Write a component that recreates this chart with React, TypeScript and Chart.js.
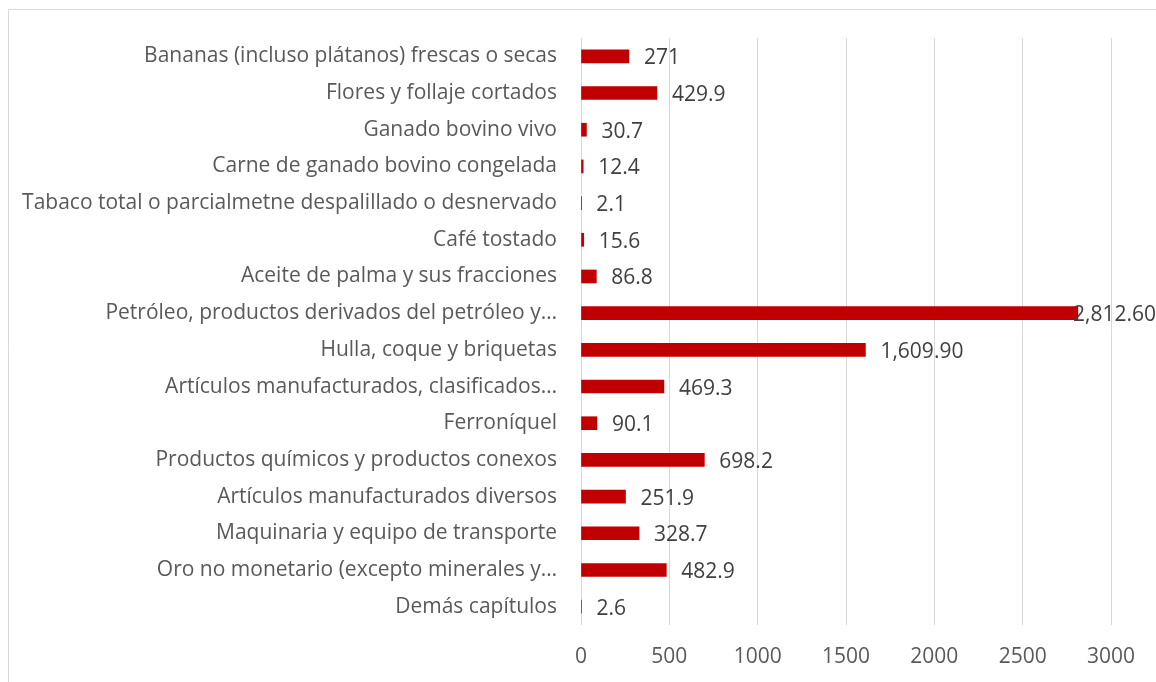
import React, { useEffect, useRef } from "react";
import { Chart, registerables } from "chart.js";

Chart.register(...registerables);

const categories: string[] = [
  "Bananas (incluso plátanos) frescas o secas",
  "Flores y follaje cortados",
  "Ganado bovino vivo",
  "Carne de ganado bovino congelada",
  "Tabaco total o parcialmetne despalillado o desnervado",
  "Café tostado",
  "Aceite de palma y sus fracciones",
  "Petróleo, productos derivados del petróleo y…",
  "Hulla, coque y briquetas",
  "Artículos manufacturados, clasificados…",
  "Ferroníquel",
  "Productos químicos y productos conexos",
  "Artículos manufacturados diversos",
  "Maquinaria y equipo de transporte",
  "Oro no monetario (excepto minerales y…",
  "Demás capítulos",
];

const values: number[] = [
  271, 429.9, 30.7, 12.4, 2.1, 15.6, 86.8, 2812.6, 1609.9, 469.3, 90.1, 698.2,
  251.9, 328.7, 482.9, 2.6,
];

const valueLabels: string[] = [
  "271", "429.9", "30.7", "12.4", "2.1", "15.6", "86.8", "2,812.60", "1,609.90",
  "469.3", "90.1", "698.2", "251.9", "328.7", "482.9", "2.6",
];

const xTicks: number[] = [0, 500, 1000, 1500, 2000, 2500, 3000];

const W = 1156;
const H = 682;
const FONT = "'Open Sans', sans-serif";
const FS = 21;

export default function App() {
  const ref = useRef<HTMLCanvasElement | null>(null);

  useEffect(() => {
    const canvas = ref.current;
    if (!canvas) return;

    const borderPlugin = {
      id: "frame",
      beforeDraw(chart: any) {
        const ctx = chart.ctx;
        ctx.save();
        ctx.fillStyle = "#ffffff";
        ctx.fillRect(0, 0, W, H);
        ctx.strokeStyle = "#d9d9d9";
        ctx.lineWidth = 1;
        ctx.beginPath();
        ctx.moveTo(8.5, H);
        ctx.lineTo(8.5, 9.5);
        ctx.lineTo(W, 9.5);
        ctx.stroke();
        ctx.restore();
      },
    };

    const labelPlugin = {
      id: "valueLabels",
      afterDatasetsDraw(chart: any) {
        const ctx = chart.ctx;
        const meta = chart.getDatasetMeta(0);
        ctx.save();
        ctx.font = `${FS}px ${FONT}`;
        ctx.fillStyle = "#404040";
        ctx.textBaseline = "middle";
        ctx.textAlign = "left";
        meta.data.forEach((bar: any, i: number) => {
          const txt = valueLabels[i];
          const w = ctx.measureText(txt).width;
          let x = bar.x + 15;
          if (x + w > W) x = W - w;
          ctx.fillText(txt, x, bar.y + 2);
        });
        ctx.restore();
      },
    };

    const chart = new Chart(canvas, {
      type: "bar",
      data: {
        labels: categories,
        datasets: [
          {
            data: values,
            backgroundColor: "#C00000",
            borderWidth: 0,
            barThickness: 13,
          },
        ],
      },
      options: {
        indexAxis: "y",
        responsive: false,
        animation: false,
        layout: { padding: { top: 38, right: 45, left: 0, bottom: 0 } },
        plugins: {
          legend: { display: false },
          tooltip: { enabled: false },
        },
        scales: {
          x: {
            min: 0,
            max: 3000,
            afterBuildTicks(scale: any) {
              scale.ticks = xTicks.map((v) => ({ value: v }));
            },
            afterFit(scale: any) {
              scale.height = 57;
            },
            grid: {
              color: "#d9d9d9",
              lineWidth: 1,
              drawTicks: false,
            },
            border: { display: false },
            ticks: {
              padding: 19,
              color: "#595959",
              font: { size: FS, family: FONT },
              callback: (v: any) => String(v),
            },
          },
          y: {
            afterFit(scale: any) {
              scale.width = 581;
            },
            grid: { display: false, drawTicks: false },
            border: { display: false },
            ticks: {
              padding: 24,
              color: "#595959",
              font: { size: FS, family: FONT },
              autoSkip: false,
            },
          },
        },
      },
      plugins: [borderPlugin, labelPlugin],
    });

    return () => chart.destroy();
  }, []);

  return (
    <div style={{ position: "fixed", left: 0, top: 0, width: W, height: H }}>
      <canvas ref={ref} width={W} height={H} style={{ display: "block" }} />
    </div>
  );
}
